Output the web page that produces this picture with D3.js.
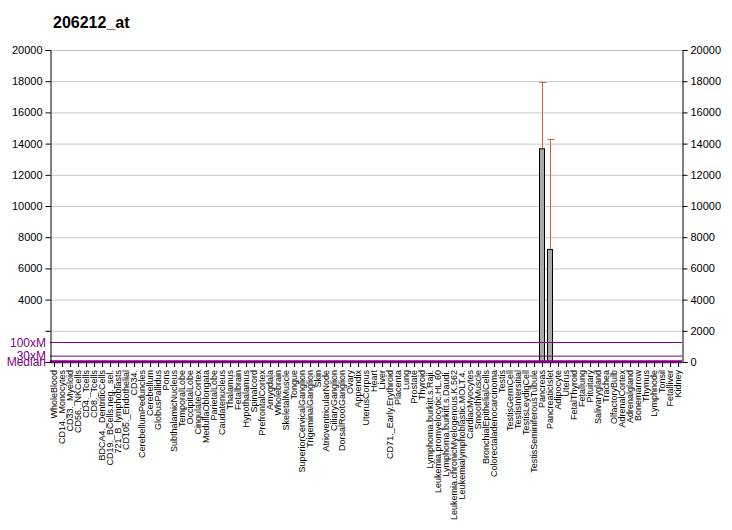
<!DOCTYPE html>
<html><head><meta charset="utf-8">
<script src="https://cdn.jsdelivr.net/npm/d3@7"></script>
<style>body{margin:0;background:#fff}svg text{font-family:"Liberation Sans",Arial,sans-serif}</style>
</head><body><svg id="c" width="732" height="530"></svg>
<script>
const title = "206212_at";
const categories = ["WholeBlood","CD14._Monocytes","CD33._Myeloid","CD56._NKCells","CD4._Tcells","CD8._Tcells","BDCA4._DentriticCells","CD19._BCells.neg._sel.","721_B_lymphoblasts","CD105._Endothelial","CD34.","CerebellumPeduncles","Cerebellum","GlobusPallidus","Pons","SubthalamicNucleus","TemporalLobe","OccipitalLobe","CingulateCortex","MedullaOblongata","ParietalLobe","Caudatenucleus","Thalamus","Fetalbrain","Hypothalamus","Spinalcord","PrefrontalCortex","Amygdala","Wholebrain","SkeletalMuscle","Tongue","SuperiorCervicalGanglion","TrigeminalGanglion","Skin","AtrioventricularNode","CiliaryGanglion","DorsalRootGanglion","Ovary","Appendix","UterusCorpus","Heart","Liver","CD71._Early.Erythroid","Placenta","Lung","Prostate","Thyroid","Lymphoma.burkitt.s.Raji.","Leukemia.promyelocytic.HL.60","Lymphoma.burkitt.s.Daudi.","Leukemia.chronicMyelogenous.K.562","Leukemialymphoblastic.MOLT.4.","CardiacMyocytes","SmoothMuscle","BronchialEpithelialCells","Colorectaladenocarcinoma","Testis","TestisGermCell","TestisIntersitial","TestisLeydigCell","TestisSeminiferousTubule","Pancreas","PancreaticIslet","Adipocyte","Uterus","FetalThyroid","Fetallung","Pituitary","Salivarygland","Trachea","OlfactoryBulb","AdrenalCortex","Adrenalgland","Bonemarrow","Thymus","Lymphnode","Tonsil","Fetalliver","Kidney"];
const values = [14,12,11,13,12,10,12,13,15,11,12,10,12,11,13,12,11,12,13,12,11,12,13,12,11,12,13,12,12,14,11,13,12,12,11,13,12,12,14,12,13,15,11,14,13,12,12,16,14,15,13,12,14,12,13,14,12,11,12,13,12,13700,7250,12,13,12,11,12,13,12,12,11,13,12,11,12,13,11,12];
const errTop = {"Pancreas":17950,"PancreaticIslet":14300};
const yTicks = [0,2000,4000,6000,8000,10000,12000,14000,16000,18000,20000];
const median = 12.5;
const refLines = [{label:"Median",mult:1,w:3},{label:"30xM",mult:30,w:1},{label:"100xM",mult:100,w:1}];

const svg = d3.select("#c");
const L=50,R=682,T=50,B=362;
const x = d3.scaleBand().domain(categories).range([L,R]).paddingInner(0.25).paddingOuter(0.125);
const y = d3.scaleLinear().domain([0,20000]).range([B,T]);
const purple="#800080";

svg.append("text").attr("x",53).attr("y",28).attr("font-size",16).attr("font-weight","bold").text(title);

// grid
svg.append("g").selectAll("line").data(yTicks.filter(d=>d>0)).join("line")
 .attr("x1",L).attr("x2",R).attr("y1",d=>y(d)+0.5).attr("y2",d=>y(d)+0.5)
 .attr("stroke","#c8c8c8").attr("stroke-width",1);

// bars
svg.append("g").selectAll("rect").data(categories).join("rect")
 .attr("x",d=>x(d)+0.5).attr("width",x.bandwidth()-1)
 .attr("y",(d,i)=>y(values[i])+0.5).attr("height",(d,i)=>Math.max(0,B-y(values[i])))
 .attr("fill","#aaaaaa").attr("stroke","#000").attr("stroke-width",1);

// error bars
const eg = svg.append("g");
Object.entries(errTop).forEach(([k,v])=>{
  const i=categories.indexOf(k), cx=Math.round(x(k)+x.bandwidth()/2)+0.5;
  eg.append("line").attr("x1",cx).attr("x2",cx).attr("y1",y(values[i])).attr("y2",y(v)).attr("stroke","#c8692e");
  eg.append("line").attr("x1",cx-3).attr("x2",cx+4).attr("y1",Math.round(y(v))+0.5).attr("y2",Math.round(y(v))+0.5).attr("stroke","#c8692e");
});

// ref lines
refLines.forEach(r=>{
  const yy=y(median*r.mult);
  svg.append("line").attr("x1",L).attr("x2",R).attr("y1",yy).attr("y2",yy).attr("stroke",purple).attr("stroke-width",r.w);
});

// left axis
const la = svg.append("g").attr("transform",`translate(${L+0.5},0)`)
 .call(d3.axisLeft(y).tickValues(yTicks).tickSize(5).tickFormat(d=>(d===0||d===2000)?"":d));
la.select(".domain").attr("stroke","#000");
la.selectAll("text").attr("font-size",11).attr("font-family","Liberation Sans, Arial").attr("fill","#000");
// ref labels
refLines.forEach(r=>{
  svg.append("text").attr("x",46).attr("y",y(median*r.mult)+4).attr("text-anchor","end")
   .attr("font-size",12).attr("fill",purple).text(r.label);
});

// right axis
const ra = svg.append("g").attr("transform",`translate(${R+0.5},0)`)
 .call(d3.axisRight(y).tickValues(yTicks).tickSize(5).tickFormat(d3.format("d")));
ra.selectAll("text").attr("font-size",11).attr("font-family","Liberation Sans, Arial").attr("fill","#000");

// x ticks and labels
const xg = svg.append("g").attr("transform",`translate(0,${B})`)
 .call(d3.axisBottom(x).tickSize(5).tickSizeOuter(0));
xg.select(".domain").remove();
xg.selectAll(".tick line").attr("transform","translate(0.5,0)");
xg.selectAll("text").attr("font-size",9).attr("font-family","Liberation Sans, Arial")
 .attr("text-anchor","end").attr("transform","rotate(-90)").attr("x",-8).attr("y",0).attr("dy","0.35em").attr("fill","#000");
</script></body></html>
